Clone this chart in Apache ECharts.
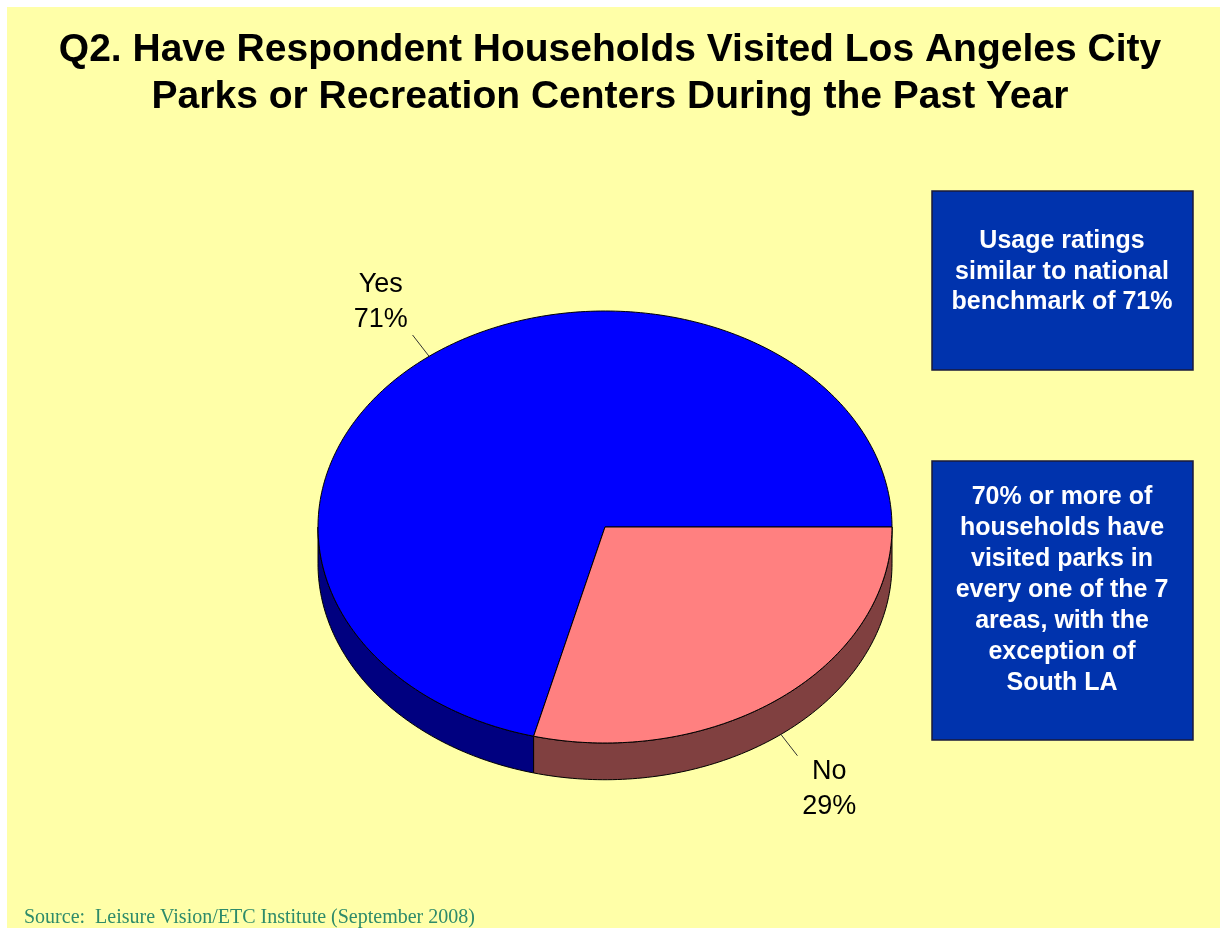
<!DOCTYPE html>
<html>
<head>
<meta charset="utf-8">
<script src="https://cdn.jsdelivr.net/npm/echarts@6/dist/echarts.min.js"></script>
<style>
  html, body { margin: 0; padding: 0; background: #ffffff; }
  #chart { width: 1220px; height: 928px; }
</style>
</head>
<body>
<div id="chart"></div>
<script>
// Survey answers and their shares (percent of households)
const categories = ['Yes', 'No'];
const shares = [71, 29];
const topColors = ['#0000FF', '#FF8080'];
const sideColors = ['#000080', '#804040'];

const titleText = 'Q2. Have Respondent Households Visited Los Angeles City\nParks or Recreation Centers During the Past Year';
const noteTop = 'Usage ratings\nsimilar to national\nbenchmark of 71%';
const noteBottom = '70% or more of\nhouseholds have\nvisited parks in\nevery one of the 7\nareas, with the\nexception of\nSouth LA';
const sourceText = 'Source:  Leisure Vision/ETC Institute (September 2008)';

// Thickness of the tilted disc, in y-axis units
const DEPTH = 0.17;

// Angular extent of each slice, measured clockwise on screen from 3 o'clock.
// Slices are laid out counter-clockwise from 3 o'clock in category order.
function sliceAngles() {
  const out = [];
  let acc = 0;
  shares.forEach(v => {
    const end = 360 - acc;
    const start = end - v * 3.6;
    out.push([start, end]);
    acc += v * 3.6;
  });
  return out;
}
const angles = sliceAngles();

function renderSlice(params, api) {
  const i = params.dataIndex;
  const [a0, a1] = angles[i];
  const depthPx = api.size([0, DEPTH])[1];
  const rad = d => d * Math.PI / 180;
  const pt = (deg, drop) => {
    const c = api.coord([Math.cos(rad(deg)), -Math.sin(rad(deg))]);
    return [c[0], c[1] + drop];
  };
  const arc = (from, to, drop) => {
    const pts = [];
    const n = Math.max(2, Math.ceil(Math.abs(to - from) / 1));
    for (let k = 0; k <= n; k++) pts.push(pt(from + (to - from) * k / n, drop));
    return pts;
  };
  const children = [];
  // visible front wall: lower half of the ellipse (0..180 deg, also 360..540)
  [[0, 180], [360, 540]].forEach(([lo, hi]) => {
    const s = Math.max(a0, lo), e = Math.min(a1, hi);
    if (s < e) {
      const pts = arc(s, e, 0).concat(arc(e, s, depthPx));
      children.push({
        type: 'polygon',
        shape: { points: pts },
        style: { fill: sideColors[i], stroke: '#000', lineWidth: 1 }
      });
    }
  });
  // top face
  const center = api.coord([0, 0]);
  children.push({
    type: 'polygon',
    shape: { points: [center].concat(arc(a0, a1, 0)) },
    style: { fill: topColors[i], stroke: '#000', lineWidth: 1 }
  });
  // leader line and label
  const mid = (a0 + a1) / 2;
  const dir = [Math.cos(rad(mid)), Math.sin(rad(mid))];
  const anchor = pt(mid, dir[1] > 0 ? depthPx : 0);
  const lead = 27;
  const end = [anchor[0] + dir[0] * lead, anchor[1] + dir[1] * lead];
  children.push({
    type: 'line',
    shape: { x1: anchor[0], y1: anchor[1], x2: end[0], y2: end[1] },
    style: { stroke: '#333', lineWidth: 1 }
  });
  children.push({
    type: 'text',
    style: {
      text: categories[i] + '\n' + shares[i] + '%',
      x: end[0] + dir[0] * 42 + Math.sign(dir[0]) * 6,
      y: end[1] + dir[1] * 42,
      align: 'center',
      verticalAlign: 'middle',
      fill: '#000',
      fontSize: 27,
      fontFamily: 'Liberation Sans, Arial, sans-serif',
      lineHeight: 35
    }
  });
  return { type: 'group', children: children };
}

const chart = echarts.init(document.getElementById('chart'), null, { renderer: 'canvas' });

chart.setOption({
  backgroundColor: '#ffffff',
  animation: false,
  title: {
    text: titleText,
    left: 'center',
    top: 22,
    textStyle: {
      fontSize: 39,
      fontWeight: 'bold',
      fontFamily: 'Liberation Sans, Arial, sans-serif',
      color: '#000',
      lineHeight: 47
    }
  },
  grid: { left: 318, top: 311, width: 574, height: 432 },
  xAxis: { type: 'value', min: -1, max: 1, show: false },
  yAxis: { type: 'value', min: -1, max: 1, show: false },
  graphic: [
    {
      type: 'rect', z: -10, silent: true,
      shape: { x: 7, y: 7, width: 1213, height: 921 },
      style: { fill: '#FFFFA8' }
    },
    {
      type: 'group',
      children: [
        {
          type: 'rect',
          shape: { x: 932, y: 191, width: 261, height: 179 },
          style: { fill: '#0033AD', stroke: '#1a1a3a', lineWidth: 1.5 }
        },
        {
          type: 'text',
          style: {
            text: noteTop, x: 1062, y: 272, align: 'center', verticalAlign: 'middle',
            fill: '#ffffff', fontSize: 25, fontWeight: 'bold',
            fontFamily: 'Liberation Sans, Arial, sans-serif', lineHeight: 30.5
          }
        },
        {
          type: 'rect',
          shape: { x: 932, y: 461, width: 261, height: 279 },
          style: { fill: '#0033AD', stroke: '#1a1a3a', lineWidth: 1.5 }
        },
        {
          type: 'text',
          style: {
            text: noteBottom, x: 1062, y: 590, align: 'center', verticalAlign: 'middle',
            fill: '#ffffff', fontSize: 25, fontWeight: 'bold',
            fontFamily: 'Liberation Sans, Arial, sans-serif', lineHeight: 31
          }
        }
      ]
    },
    {
      type: 'text',
      style: {
        text: sourceText, x: 24, y: 918, align: 'left', verticalAlign: 'middle',
        fill: '#2E8B6A', fontSize: 20,
        fontFamily: 'Liberation Serif, Times New Roman, serif'
      }
    }
  ],
  series: [{
    type: 'custom',
    coordinateSystem: 'cartesian2d',
    clip: false,
    renderItem: renderSlice,
    data: shares.map((v, i) => ({ name: categories[i], value: [v] }))
  }]
});
</script>
</body>
</html>
